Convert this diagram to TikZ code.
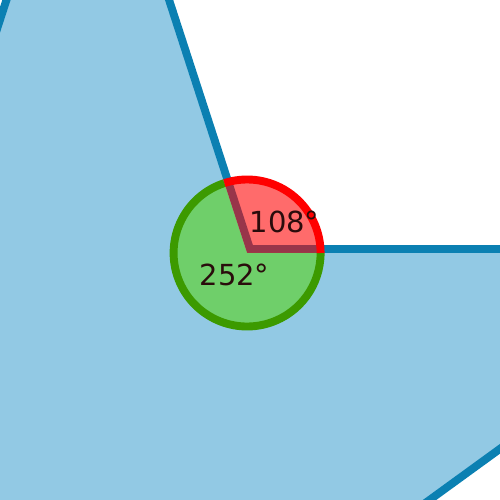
\documentclass[tikz,border=0pt]{standalone}
\usepackage{fontspec}
\setsansfont{DejaVu Sans}
\usepackage{xcolor}
\usetikzlibrary{calc}
\definecolor{starfill}{HTML}{92C9E4}
\definecolor{starline}{HTML}{0B80B2}
\definecolor{bigfill}{HTML}{6FCF6A}
\definecolor{bigline}{HTML}{3C9A00}
\definecolor{labeltext}{HTML}{2A0C0C}
\tikzstyle{star}       = [fill=starfill, draw=starline, line width=4.5pt, line join=miter]
\tikzstyle{ringline}   = [line width=4.5pt]
\tikzstyle{anglelabel} = [font=\sffamily\fontsize{16.5}{16.5}\selectfont, text=labeltext, inner sep=0pt]

\begin{document}
\begin{tikzpicture}
    \useasboundingbox (0,0) rectangle (10,10);
    \clip (0,0) rectangle (10,10);
    \coordinate (vtx) at (5.0,5.02);
    \coordinate (ctr) at ($(vtx)+(-0.058,-0.08)$);

    % star outline, walked from the inner corner
    \draw[star] (vtx) -- ++(0:10.5) -- ++(216:10.5) -- ++(288:10.5) -- ++(144:10.5)
        -- ++(216:10.5) -- ++(72:10.5) -- ++(144:10.5) -- ++(0:10.5) -- ++(72:10.5) -- cycle;

    \fill[bigfill] (ctr) -- ($(ctr)+(108:1.47)$) arc[start angle=108, end angle=360, radius=1.47] -- cycle;
    \fill[red, fill opacity=0.58] (ctr) -- ($(ctr)+(0:1.47)$) arc[start angle=0, end angle=108, radius=1.47] -- cycle;
    \draw[ringline, bigline] ($(ctr)+(108:1.47)$) arc[start angle=108, end angle=360, radius=1.47];
    \draw[ringline, red] ($(ctr)+(0:1.47)$) arc[start angle=0, end angle=108, radius=1.47];

    \node[anglelabel] (small) at (5.69,5.56) {108°};
    \node[anglelabel] (large) at (4.69,4.50) {252°};
\end{tikzpicture}
\end{document}
